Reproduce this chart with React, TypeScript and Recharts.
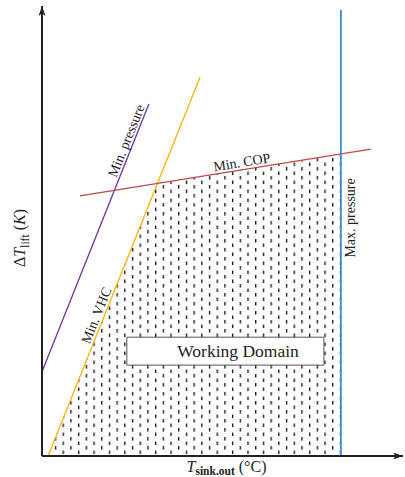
import React from "react";
import {
  ComposedChart,
  Line,
  Area,
  XAxis,
  YAxis,
  ReferenceArea,
  ReferenceDot,
  Label,
} from "recharts";

// schematic units: x and y both 0..100 on the plot
const minPressure = [
  { x: 0, y: 18.7 },
  { x: 29.6, y: 78.2 },
];
const minVHC = [
  { x: 1.7, y: 0 },
  { x: 43.8, y: 84.2 },
];
const minCOP = [
  { x: 10.5, y: 57.8 },
  { x: 91.1, y: 68.2 },
];
const maxPressure = [
  { x: 82.8, y: 0 },
  { x: 82.8, y: 99.1 },
];
// upper edge of the working domain (VHC line, then COP line, until max pressure)
const domainEdge = [
  { x: 1.7, y: 0 },
  { x: 31.9, y: 60.5 },
  { x: 82.8, y: 67.1 },
];
const domainBox = { x1: 23.5, x2: 78.1, y1: 20.2, y2: 26.4 };

// labels sit on their line; off = baseline shift in the rotated frame
const annotations = [
  { id: "minP", x: 25.3, y: 69.4, text: "Min. pressure", rot: -68.2, off: -3 },
  { id: "minV", x: 17.0, y: 30.6, text: "Min. VHC", rot: -68.1, off: -3 },
  { id: "minC", x: 55.7, y: 63.6, text: "Min. COP", rot: -9.2, off: -3 },
  { id: "maxP", x: 82.8, y: 52.9, text: "Max. pressure", rot: -90, off: 14 },
];

const SERIF = "'Liberation Serif', 'Times New Roman', serif";
const INK = "#222";

const SlantText = ({ viewBox, text, rot, off = 0, size = 14 }: any) => {
  if (!viewBox) return null;
  const cx = viewBox.x + viewBox.width / 2;
  const cy = viewBox.y + viewBox.height / 2;
  return (
    <text
      x={cx}
      y={cy}
      dy={off}
      textAnchor="middle"
      transform={`rotate(${rot} ${cx} ${cy})`}
      fontFamily={SERIF}
      fontSize={size}
      fill={INK}
    >
      {text}
    </text>
  );
};

const YTitle = ({ viewBox }: any) => {
  if (!viewBox) return null;
  const cx = viewBox.x + 25;
  const cy = viewBox.y + viewBox.height / 2 + 7;
  return (
    <text
      transform={`translate(${cx} ${cy}) rotate(-90)`}
      textAnchor="middle"
      fontFamily={SERIF}
      fontSize={16}
      fill={INK}
    >
      <tspan>Δ</tspan>
      <tspan fontStyle="italic">T</tspan>
      <tspan fontSize={11.5} dy={4}>
        lift
      </tspan>
      <tspan dy={-4}> (</tspan>
      <tspan fontStyle="italic">K</tspan>
      <tspan>)</tspan>
    </text>
  );
};

const XTitle = ({ viewBox }: any) => {
  if (!viewBox) return null;
  const cx = viewBox.x + viewBox.width / 2 + 4;
  return (
    <text
      x={cx}
      y={472}
      textAnchor="middle"
      fontFamily={SERIF}
      fontSize={16}
      fill={INK}
    >
      <tspan fontStyle="italic">T</tspan>
      <tspan fontSize={11.5} dy={3} fontWeight={600}>
        sink.out
      </tspan>
      <tspan dy={-3}> (°C)</tspan>
    </text>
  );
};

export default function App() {
  return (
    <div style={{ position: "absolute", left: 0, top: 0, background: "#fff" }}>
      <ComposedChart
        width={405}
        height={477}
        margin={{ top: 6, right: 2, bottom: 0, left: 0 }}
      >
        <defs>
          <pattern
            id="hatch"
            patternUnits="userSpaceOnUse"
            width={15.4}
            height={9}
          >
            <rect x={1} y={0.5} width={1.3} height={3.6} fill="#111" />
            <rect x={8.7} y={5} width={1.3} height={3.6} fill="#111" />
          </pattern>
          <marker
            id="arrow"
            viewBox="0 0 10 10"
            refX={10}
            refY={5}
            markerWidth={10}
            markerHeight={10}
            markerUnits="userSpaceOnUse"
            orient="auto-start-reverse"
          >
            <path d="M0,1.5 L10,5 L0,8.5 L2.5,5 Z" fill={INK} />
          </marker>
        </defs>
        <XAxis
          type="number"
          dataKey="x"
          domain={[0, 100]}
          height={21}
          tick={false}
          tickLine={false}
          axisLine={{ stroke: INK, strokeWidth: 2, markerEnd: "url(#arrow)" }}
        >
          <Label content={<XTitle />} />
        </XAxis>
        <YAxis
          type="number"
          dataKey="y"
          domain={[0, 100]}
          width={42}
          tick={false}
          tickLine={false}
          axisLine={{ stroke: INK, strokeWidth: 2, markerStart: "url(#arrow)" }}
        >
          <Label content={<YTitle />} />
        </YAxis>
        <Area
          data={domainEdge}
          dataKey="y"
          type="linear"
          stroke="none"
          fill="url(#hatch)"
          fillOpacity={1}
          baseValue={0}
          isAnimationActive={false}
        />
        <ReferenceArea
          {...domainBox}
          fill="#fff"
          fillOpacity={1}
          stroke="#555"
          strokeWidth={1}
        />
        <Line
          data={minPressure}
          dataKey="y"
          type="linear"
          stroke="#7030a0"
          strokeWidth={1.3}
          dot={false}
          isAnimationActive={false}
        />
        <Line
          data={minVHC}
          dataKey="y"
          type="linear"
          stroke="#f7b500"
          strokeWidth={1.3}
          dot={false}
          isAnimationActive={false}
        />
        <Line
          data={minCOP}
          dataKey="y"
          type="linear"
          stroke="#c4484a"
          strokeWidth={1.3}
          dot={false}
          isAnimationActive={false}
        />
        <Line
          data={maxPressure}
          dataKey="y"
          type="linear"
          stroke="#3a8ddb"
          strokeWidth={1.8}
          dot={false}
          isAnimationActive={false}
        />
        {annotations.map((a) => (
          <ReferenceDot
            key={a.id}
            x={a.x}
            y={a.y}
            r={1}
            fill="none"
            stroke="none"
            label={<SlantText text={a.text} rot={a.rot} off={a.off} />}
          />
        ))}
        <ReferenceDot
          x={54.3}
          y={23.3}
          r={1}
          fill="none"
          stroke="none"
          label={<SlantText text="Working Domain" rot={0} off={6} size={17.5} />}
        />
      </ComposedChart>
    </div>
  );
}
